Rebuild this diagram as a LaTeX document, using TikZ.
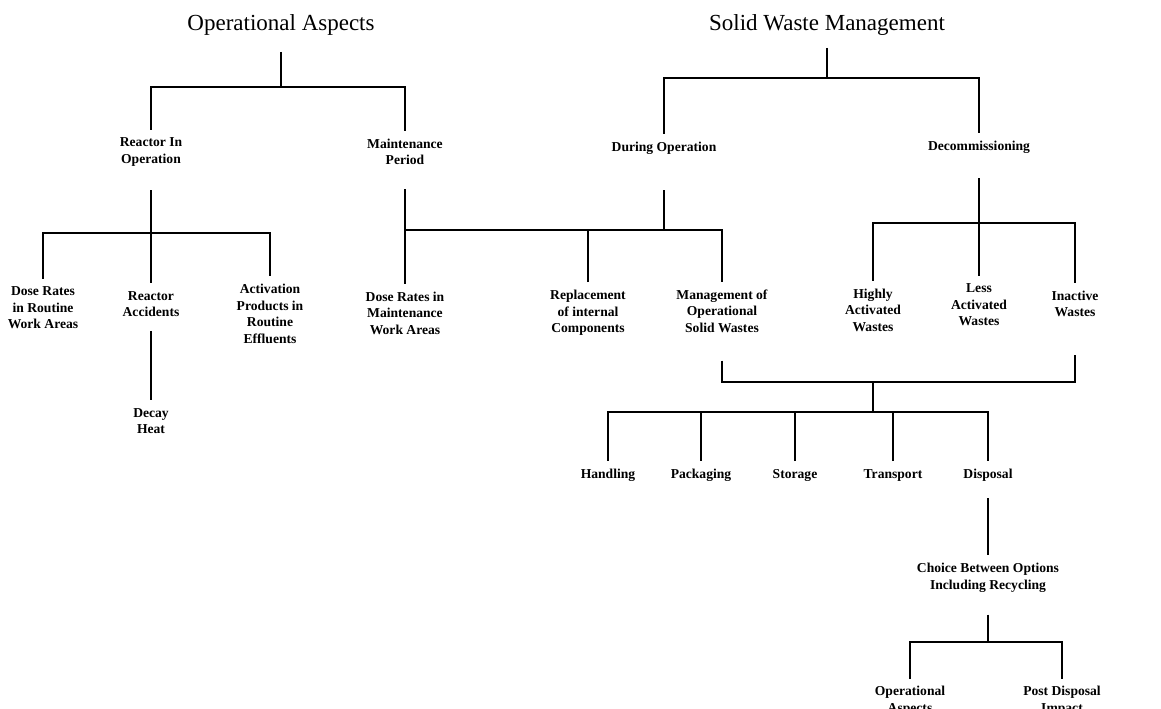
\documentclass[tikz,border=0pt]{standalone}
\usepackage{fontspec}
\setmainfont{Liberation Serif}
\newcommand{\itemfont}{\fontsize{6.8}{8.3}\selectfont\bfseries}
\newcommand{\headfont}{\fontsize{11.5}{13}\selectfont}
\begin{document}
\begin{tikzpicture}[x=0.5pt, y=-0.5pt,
  link/.style={line width=1.2pt},
  head/.style={font=\headfont, inner sep=0pt},
  item/.style={font=\itemfont, align=center, inner sep=0pt, outer ysep=4pt}]
\useasboundingbox (0,0) rectangle (1161,708);

% headings
\node[head] (oa) at (281,25) {Operational Aspects};
\node[head] (swm) at (827,25) {Solid Waste Management};

% second level
\node[item] (ro) at (151,152) {Reactor In\\Operation};
\node[item] (mp) at (405,152) {Maintenance\\Period};
\node[item] (do) at (664,148) {During Operation};
\node[item] (dc) at (979,147) {Decommissioning};

% third level
\node[item] (dr) at (43,308) {Dose Rates\\in Routine\\Work Areas};
\node[item] (ra) at (151,304) {Reactor\\Accidents};
\node[item] (ap) at (270,314) {Activation\\Products in\\Routine\\Effluents};
\node[item] (dh) at (151,421) {Decay\\Heat};
\node[item] (dm) at (405,313) {Dose Rates in\\Maintenance\\Work Areas};
\node[item] (rc) at (588,313) {Replacement\\of internal\\Components};
\node[item] (mo) at (722,311) {Management of\\Operational\\Solid Wastes};
\node[item] (ha) at (873,310) {Highly\\Activated\\Wastes};
\node[item] (la) at (979,305) {Less\\Activated\\Wastes};
\node[item] (iw) at (1075,304) {Inactive\\Wastes};

% waste handling steps
\node[item] (hd) at (608,475) {Handling};
\node[item] (pk) at (701,475) {Packaging};
\node[item] (st) at (795,475) {Storage};
\node[item] (tr) at (893,475) {Transport};
\node[item] (ds) at (988,475) {Disposal};
\node[item] (ch) at (988,578) {Choice Between Options\\Including Recycling};
\node[item] (opa) at (910,701) {Operational\\Aspects};
\node[item] (pd) at (1062,701) {Post Disposal\\Impact};

% bus points
\coordinate (oa-bus) at (281,87);
\coordinate (ro-bus) at (151,233);
\coordinate (do-bus) at (664,230);
\coordinate (swm-bus) at (827,78);
\coordinate (dc-bus) at (979,223);
\coordinate (merge-bus) at (873,382);
\coordinate (opt-bus) at (873,412);
\coordinate (ch-bus) at (988,642);

% operational aspects tree
\draw[link] ([yshift=-8pt]oa.south) -- (oa-bus);
\draw[link] (ro.north) |- (oa-bus) -| (mp.north);
\draw[link] ([yshift=-8pt]ro.south) -- (ra.north);
\draw[link] (dr.north) |- (ro-bus) -| (ap.north);
\draw[link] ([yshift=-3pt]ra.south) -- (dh.north);
\draw[link] ([yshift=-8pt]mp.south) -- (dm.north);

% solid waste management tree
\draw[link] ([yshift=-6pt]swm.south) -- (swm-bus);
\draw[link] (do.north) |- (swm-bus) -| (dc.north);
\draw[link] ([yshift=-14pt]do.south) -- (do-bus);
\draw[link] (dm.north |- do-bus) -| (mo.north);
\draw[link] (rc.north) -- (rc.north |- do-bus);
\draw[link] ([yshift=-8.5pt]dc.south) -- (la.north);
\draw[link] (ha.north) |- (dc-bus) -| (iw.north);

% merging into the handling steps
\draw[link] ([yshift=-10pt]mo.south) |- (merge-bus) -| ([yshift=-15pt]iw.south);
\draw[link] (merge-bus) -- (opt-bus);
\draw[link] (hd.north) |- (opt-bus) -| (ds.north);
\foreach \n in {pk,st,tr}
  \draw[link] (\n.north) -- (\n.north |- opt-bus);
\draw[link] ([yshift=-4.5pt]ds.south) -- (ch.north);
\draw[link] ([yshift=-7pt]ch.south) -- (ch-bus);
\draw[link] (opa.north) |- (ch-bus) -| (pd.north);
\end{tikzpicture}
\end{document}
